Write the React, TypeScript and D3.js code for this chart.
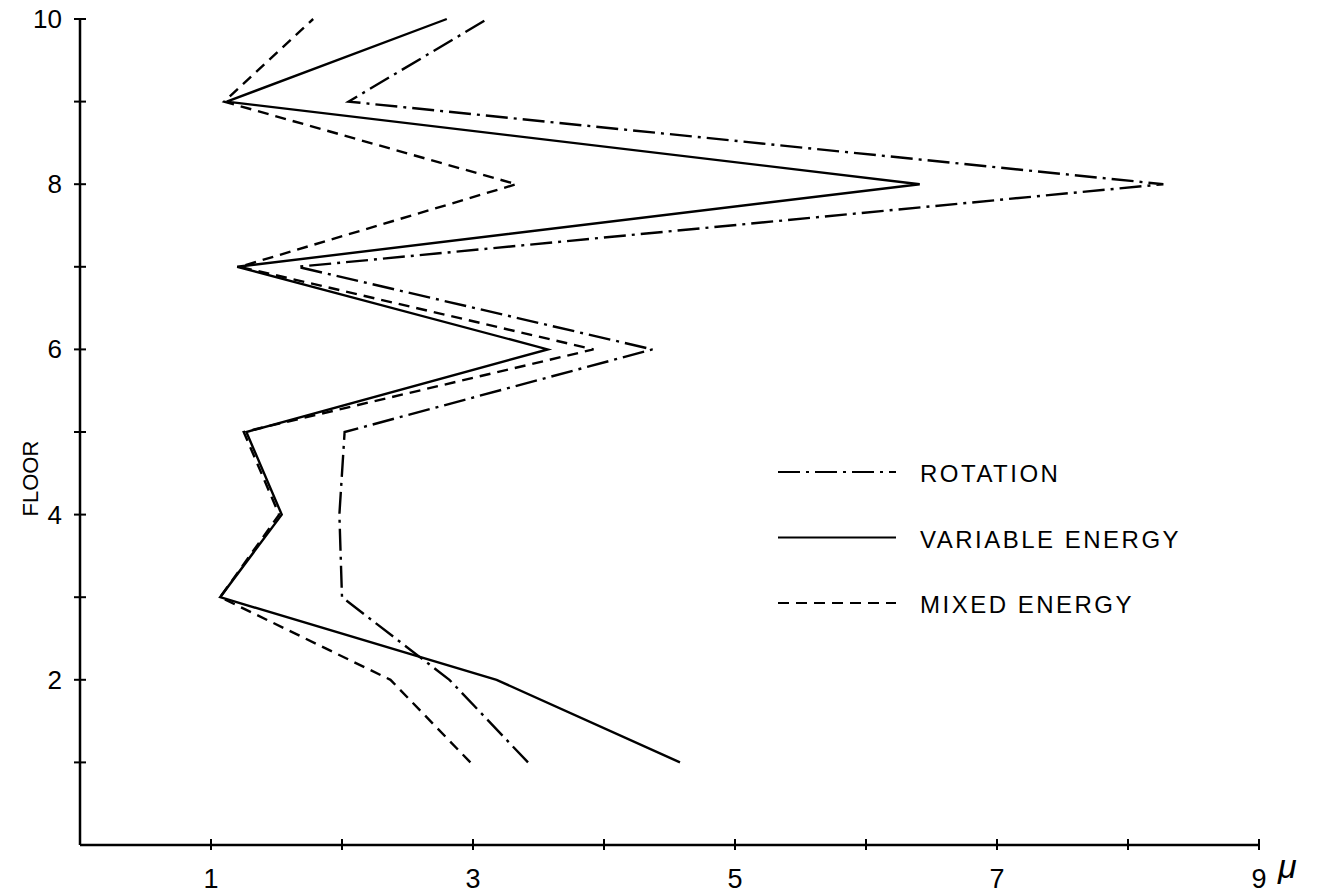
import * as d3 from "d3";
import { useEffect, useRef } from "react";

const floors = [1, 2, 3, 4, 5, 6, 7, 8, 9, 10];
const rotation = [3.42, 2.82, 2.0, 1.98, 2.02, 4.37, 1.66, 8.27, 2.05, 3.11];
const variableEnergy = [4.58, 3.18, 1.07, 1.54, 1.27, 3.57, 1.2, 6.41, 1.12, 2.8];
const mixedEnergy = [2.98, 2.37, 1.07, 1.52, 1.25, 3.92, 1.22, 3.33, 1.1, 1.78];

const xTicks = [1, 2, 3, 4, 5, 6, 7, 8, 9];
const xLabels = [1, 3, 5, 7, 9];
const yTicks = [1, 2, 3, 4, 5, 6, 7, 8, 9, 10];
const yLabels = [2, 4, 6, 8, 10];

const seriesList = [
  { name: "ROTATION", values: rotation, dash: "22,6,3,6" },
  { name: "VARIABLE ENERGY", values: variableEnergy, dash: "none" },
  { name: "MIXED ENERGY", values: mixedEnergy, dash: "11,7" },
];

const W = 1323;
const H = 893;
const FONT = "'Liberation Sans', Arial, sans-serif";

export default function App() {
  const svgRef = useRef<SVGSVGElement>(null);

  useEffect(() => {
    if (!svgRef.current) return;
    const svg = d3.select(svgRef.current);
    svg.selectAll("*").remove();

    const x = d3.scaleLinear().domain([0, 9]).range([80, 1259]);
    const y = d3.scaleLinear().domain([0, 10]).range([845, 19]);

    // axes lines
    svg.append("line")
      .attr("x1", x(0)).attr("x2", x(9))
      .attr("y1", y(0)).attr("y2", y(0))
      .attr("stroke", "#000").attr("stroke-width", 2.5);
    svg.append("line")
      .attr("x1", x(0)).attr("x2", x(0))
      .attr("y1", y(0)).attr("y2", y(10))
      .attr("stroke", "#000").attr("stroke-width", 2.5);

    // x ticks (crossing the axis)
    svg.selectAll(".xt").data(xTicks).enter().append("line")
      .attr("x1", (d) => x(d)).attr("x2", (d) => x(d))
      .attr("y1", y(0) - 6).attr("y2", y(0) + 5)
      .attr("stroke", "#000").attr("stroke-width", 2);
    svg.selectAll(".xl").data(xLabels).enter().append("text")
      .attr("x", (d) => x(d)).attr("y", y(0) + 43)
      .attr("text-anchor", "middle")
      .style("font-family", FONT).style("font-size", "27px")
      .text((d) => d);

    // y ticks
    svg.selectAll(".yt").data(yTicks).enter().append("line")
      .attr("x1", x(0) - 6).attr("x2", x(0) + 6)
      .attr("y1", (d) => y(d)).attr("y2", (d) => y(d))
      .attr("stroke", "#000").attr("stroke-width", 2);
    svg.selectAll(".yl").data(yLabels).enter().append("text")
      .attr("x", x(0) - 18).attr("y", (d) => y(d) + 9)
      .attr("text-anchor", "end")
      .style("font-family", FONT).style("font-size", "26px")
      .text((d) => d);

    // axis titles
    svg.append("text")
      .attr("transform", `translate(38,${y(4) - 36}) rotate(-90)`)
      .attr("text-anchor", "middle")
      .style("font-family", FONT).style("font-size", "22px")
      .text("FLOOR");
    svg.append("text")
      .attr("x", 1278).attr("y", 878)
      .style("font-family", FONT).style("font-size", "34px")
      .style("font-style", "italic")
      .text("μ");

    // series lines
    const line = d3.line<number>()
      .x((d) => x(d))
      .y((_, i) => y(floors[i]));

    seriesList.forEach((s) => {
      svg.append("path")
        .attr("d", line(s.values)!)
        .attr("fill", "none")
        .attr("stroke", "#000")
        .attr("stroke-width", 2.4)
        .attr("stroke-linejoin", "miter")
        .attr("stroke-dasharray", s.dash);
    });

    // legend
    const legend = svg.append("g");
    seriesList.forEach((s, i) => {
      const ly = 472 + i * 65.5;
      legend.append("line")
        .attr("x1", 778).attr("x2", 896)
        .attr("y1", ly).attr("y2", ly)
        .attr("stroke", "#000").attr("stroke-width", 2.2)
        .attr("stroke-dasharray", s.dash);
      legend.append("text")
        .attr("x", 920).attr("y", ly + 10)
        .style("font-family", FONT).style("font-size", "24px")
        .style("letter-spacing", "2.5px")
        .text(s.name);
    });
  }, []);

  return (
    <svg
      ref={svgRef}
      width={W}
      height={H}
      style={{ position: "absolute", left: 0, top: 0, background: "#fff" }}
    />
  );
}
